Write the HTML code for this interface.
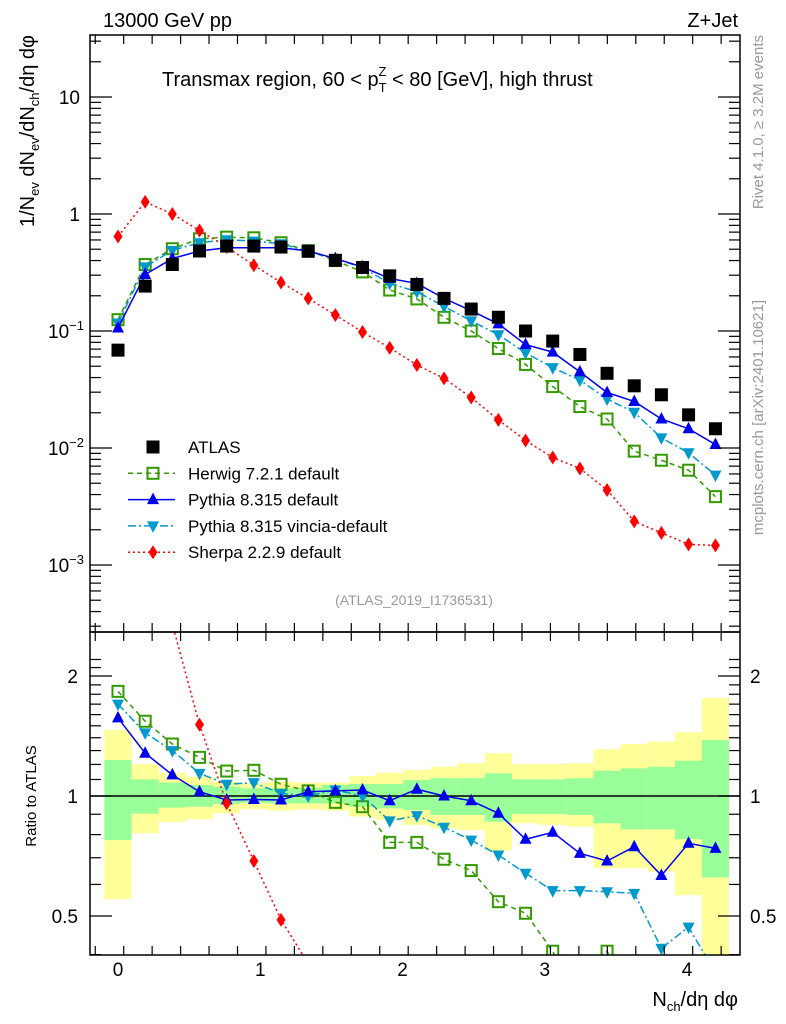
<!DOCTYPE html>
<html><head><meta charset="utf-8"><style>
html,body{margin:0;padding:0;background:#fff;}
svg{display:block;font-family:"Liberation Sans",Arial,sans-serif;}
</style></head><body>
<svg id="chart" width="786" height="1024" viewBox="0 0 786 1024" xmlns="http://www.w3.org/2000/svg">
<rect x="0" y="0" width="786" height="1024" fill="#fff"/>
<g id="bands"></g><g id="series"></g><g id="axes"></g><g id="labels"></g>
</svg>
<script>
const xs = [0,0.191,0.382,0.573,0.764,0.955,1.146,1.337,1.528,1.719,1.91,2.101,2.292,2.483,2.674,2.865,3.056,3.247,3.438,3.629,3.82,4.011,4.2];
const atlas = [0.0686,0.242,0.37,0.483,0.532,0.532,0.522,0.48,0.402,0.349,0.296,0.25,0.19,0.154,0.131,0.1,0.082,0.063,0.0435,0.034,0.0285,0.0192,0.0146];
const herwig = [0.125,0.37,0.505,0.614,0.634,0.626,0.568,0.486,0.4,0.32,0.224,0.188,0.131,0.1,0.0708,0.0518,0.0335,0.0226,0.0177,0.0094,0.00786,0.00646,0.00384];
const pythia = [0.106,0.304,0.416,0.483,0.515,0.515,0.515,0.483,0.416,0.353,0.281,0.255,0.19,0.149,0.115,0.0766,0.066,0.0447,0.0298,0.025,0.0177,0.0146,0.0107];
const vincia = [0.117,0.353,0.489,0.568,0.602,0.587,0.557,0.48,0.416,0.347,0.255,0.217,0.162,0.122,0.093,0.065,0.0486,0.038,0.0262,0.0202,0.0122,0.0091,0.00587];
const sherpa = [0.642,1.27,1.0,0.722,0.522,0.365,0.26,0.19,0.137,0.098,0.0718,0.0512,0.0394,0.027,0.0174,0.0116,0.0083,0.00668,0.00438,0.00236,0.00188,0.0015,0.00147];
const ratioHerwig = [1.83,1.54,1.35,1.25,1.155,1.16,1.07,1.03,0.964,0.94,0.765,0.765,0.694,0.65,0.543,0.508,0.408,0.3,0.408,0.3,0.3,0.3,0.3];
const ratioPythia = [1.57,1.28,1.13,1.025,0.977,0.98,0.977,1.025,1.03,1.035,0.973,1.04,1.0,0.973,0.905,0.779,0.811,0.718,0.687,0.746,0.632,0.761,0.739];
const ratioVincia = [1.70,1.44,1.30,1.14,1.07,1.08,1.015,1.0,1.035,1.0,0.866,0.893,0.835,0.775,0.711,0.64,0.579,0.579,0.575,0.57,0.415,0.469,0.36];
const ratioSherpa = [9.3,5.2,2.7,1.51,0.959,0.687,0.489,0.38,null,null,null,null,null,null,null,null,null,null,null,null,null,null,null];
const bandYellowUp = [1.464,1.203,1.144,1.118,1.086,1.076,1.086,1.08,1.08,1.122,1.144,1.162,1.184,1.208,1.28,1.203,1.203,1.208,1.31,1.35,1.369,1.445,1.762];
const bandYellowDn = [0.551,0.806,0.861,0.874,0.905,0.926,0.919,0.926,0.919,0.888,0.871,0.846,0.83,0.822,0.729,0.854,0.846,0.838,0.659,0.659,0.646,0.564,0.4];
const bandGreenUp = [1.231,1.101,1.08,1.066,1.055,1.045,1.045,1.049,1.066,1.072,1.072,1.097,1.108,1.108,1.14,1.101,1.101,1.108,1.157,1.173,1.184,1.226,1.382];
const bandGreenDn = [0.775,0.903,0.935,0.94,0.955,0.962,0.958,0.958,0.958,0.94,0.931,0.922,0.896,0.896,0.862,0.901,0.901,0.896,0.854,0.825,0.825,0.779,0.625];
const xTicks = ["0","1","2","3","4"];
const mainYTicks = [10,1,0.1,0.01,0.001];
const ratioTicks = ["0.5","1","2"];

const NS="http://www.w3.org/2000/svg";
const L=90,R=740,MT=35,MB=632,RT=632,RB=955;
const X0=118,XU=142.25;
function sx(v){return X0+v*XU;}
function syMain(v){return 214-117*Math.log10(v);}
function syRatio(r){return 796-120*Math.log2(r);}
function mk(tag,attrs,parent){const e=document.createElementNS(NS,tag);for(const k in attrs)e.setAttribute(k,attrs[k]);parent.appendChild(e);return e;}
const svg=document.getElementById('chart');
const gB=document.getElementById('bands'),gS=document.getElementById('series'),gA=document.getElementById('axes'),gL=document.getElementById('labels');

const defs=mk('defs',{},svg);
const c1=mk('clipPath',{id:'cm'},defs);mk('rect',{x:L,y:MT,width:R-L,height:MB-MT},c1);
const c2=mk('clipPath',{id:'cr'},defs);mk('rect',{x:L,y:RT,width:R-L,height:RB-RT},c2);

const half=0.0955;
for(let i=0;i<xs.length;i++){
  const x1=sx(xs[i]-half),x2=sx(xs[i]+half);
  let r=mk('rect',{x:x1,y:syRatio(bandYellowUp[i]),width:x2-x1,height:syRatio(bandYellowDn[i])-syRatio(bandYellowUp[i]),fill:'#ffff99','clip-path':'url(#cr)'},gB);
  
  
  let g=mk('rect',{x:x1,y:syRatio(bandGreenUp[i]),width:x2-x1,height:syRatio(bandGreenDn[i])-syRatio(bandGreenUp[i]),fill:'#99ff99','clip-path':'url(#cr)'},gB);
  
  
}
mk('line',{x1:L,x2:R,y1:796,y2:796,stroke:'#000','stroke-width':1.5},gB);

function marker(type,color,x,y,parent){
  if(type==='square') return mk('rect',{x:x-6.5,y:y-6.5,width:13,height:13,fill:'#000'},parent);
  if(type==='open') return mk('rect',{x:x-5.5,y:y-5.5,width:11,height:11,fill:'none',stroke:color,'stroke-width':2},parent);
  if(type==='up') return mk('polygon',{points:`${x},${y-7} ${x-6},${y+4.5} ${x+6},${y+4.5}`,fill:color},parent);
  if(type==='down') return mk('polygon',{points:`${x},${y+7} ${x-6},${y-4.5} ${x+6},${y-4.5}`,fill:color},parent);
  if(type==='diamond') return mk('polygon',{points:`${x},${y-7} ${x-4.5},${y} ${x},${y+7} ${x+4.5},${y}`,fill:color},parent);
}
const series=[
 {name:'herwig',vals:herwig,rat:ratioHerwig,color:'#339900',dash:'5,4',type:'open'},
 {name:'vincia',vals:vincia,rat:ratioVincia,color:'#0099cc',dash:'8,3,2,3',type:'down'},
 {name:'pythia',vals:pythia,rat:ratioPythia,color:'#0000ee',dash:'',type:'up'},
 {name:'sherpa',vals:sherpa,rat:ratioSherpa,color:'#ff0000',dash:'2,3',type:'diamond'}
];
series.forEach(s=>{
  [['main',s.vals,syMain,'url(#cm)'],['ratio',s.rat,syRatio,'url(#cr)']].forEach(([panel,arr,fy,clip])=>{
    const g=mk('g',{'clip-path':clip},gS);
    
    
    let pts=[];
    arr.forEach((v,i)=>{if(v!=null)pts.push(sx(xs[i])+','+fy(v));});
    const pl=mk('polyline',{points:pts.join(' '),fill:'none',stroke:s.color,'stroke-width':1.5},g);
    if(s.dash)pl.setAttribute('stroke-dasharray',s.dash);
    arr.forEach((v,i)=>{if(v!=null){const m=marker(s.type,s.color,sx(xs[i]),fy(v),g);
      
      }});
  });
});
atlas.forEach((v,i)=>{const m=marker('square','#000',sx(xs[i]),syMain(v),gS);
  
  });

[[MT,MB],[RT,RB]].forEach(([t,b])=>mk('rect',{x:L,y:t,width:R-L,height:b-t,fill:'none',stroke:'#000','stroke-width':1.5},gA));
for(let k=-0.8;k<=21.5;k++){
  const v=k*0.2; const x=sx(v); if(x<L||x>R)continue;
  const maj=Math.abs(v-Math.round(v))<1e-6; const len=maj?18:9;
  [[MT,1],[MB,-1],[RT,1],[RB,-1]].forEach(([y,d])=>mk('line',{x1:x,x2:x,y1:y,y2:y+d*len,stroke:'#000','stroke-width':1.2},gA));
}
for(let e=-4;e<=1;e++){for(let m=1;m<=9;m++){const v=m*Math.pow(10,e);const y=syMain(v);if(y<MT||y>MB)continue;
  const len=m===1?22:11;
  mk('line',{x1:L,x2:L+len,y1:y,y2:y,stroke:'#000','stroke-width':1.2},gA);
  mk('line',{x1:R,x2:R-len,y1:y,y2:y,stroke:'#000','stroke-width':1.2},gA);}}
for(let v=0.4;v<=2.3;v+=0.1){const y=syRatio(v);if(y<RT||y>RB)continue;
  const maj=[0.5,1,2].some(t=>Math.abs(t-v)<1e-6);const len=maj?22:11;
  mk('line',{x1:L,x2:L+len,y1:y,y2:y,stroke:'#000','stroke-width':1.2},gA);
  mk('line',{x1:R,x2:R-len,y1:y,y2:y,stroke:'#000','stroke-width':1.2},gA);}

function txt(s,attrs,name){const t=mk('text',attrs,gL);t.innerHTML=s;return t;}
xTicks.forEach(t=>txt(t,{x:sx(+t),y:976,'font-size':19,'text-anchor':'middle'},'x-tick-label'));
mainYTicks.forEach(v=>{const y=syMain(v)+7;
  if(v>=1)txt(String(v),{x:80,y:y,'font-size':19,'text-anchor':'end'},'y-tick-label');
  else txt('10<tspan dy="-8" font-size="13">−'+(-Math.round(Math.log10(v)))+'</tspan>',{x:84,y:y,'font-size':19,'text-anchor':'end'},'y-tick-label');});
ratioTicks.forEach(t=>{const y=syRatio(+t)+7;
  txt(t,{x:78,y:y,'font-size':19,'text-anchor':'end'},'ratio-tick-label-left');
  txt(t,{x:750,y:y,'font-size':19},'ratio-tick-label-right');});

txt('13000 GeV pp',{x:103,y:27,'font-size':20},'energy-label');
txt('Z+Jet',{x:738,y:27,'font-size':20,'text-anchor':'end'},'process-label');
txt('Transmax region, 60 &lt; p<tspan dy="6" font-size="13">T</tspan><tspan dy="-16" dx="-8" font-size="13">Z</tspan><tspan dy="10"> &lt; 80 [GeV], high thrust</tspan>',{x:162,y:86,'font-size':20},'plot-title');
txt('(ATLAS_2019_I1736531)',{x:414,y:605,'font-size':14,fill:'#999','text-anchor':'middle'},'analysis-id');
txt('1/N<tspan dy="5" font-size="13">ev</tspan><tspan dy="-5"> dN</tspan><tspan dy="5" font-size="13">ev</tspan><tspan dy="-5">/dN</tspan><tspan dy="5" font-size="13">ch</tspan><tspan dy="-5">/dη dφ</tspan>',{x:0,y:0,'font-size':20,'text-anchor':'end',transform:'translate(34,35) rotate(-90)'},'y-axis-title');
txt('Ratio to ATLAS',{x:0,y:0,'font-size':15,'text-anchor':'middle',transform:'translate(36,796) rotate(-90)'},'ratio-axis-title');
txt('N<tspan dy="5" font-size="13">ch</tspan><tspan dy="-5">/dη dφ</tspan>',{x:738,y:1006,'font-size':20,'text-anchor':'end'},'x-axis-title');
txt('Rivet 4.1.0, ≥ 3.2M events',{x:0,y:0,'font-size':15,fill:'#999','text-anchor':'end',transform:'translate(763,35) rotate(-90)'},'rivet-label');
txt('mcplots.cern.ch [arXiv:2401.10621]',{x:0,y:0,'font-size':15,fill:'#999','text-anchor':'end',transform:'translate(763,300) rotate(-90)'},'mcplots-label');

const leg=[['ATLAS','square','#000',''],['Herwig 7.2.1 default','open','#339900','5,4'],['Pythia 8.315 default','up','#0000ee',''],['Pythia 8.315 vincia-default','down','#0099cc','8,3,2,3'],['Sherpa 2.2.9 default','diamond','#ff0000','2,3']];
leg.forEach((l,i)=>{const y=447+i*26.3;
  const g=mk('g',{},gL);
  
  
  if(i>0){const ln=mk('line',{x1:128,x2:175,y1:y,y2:y,stroke:l[2],'stroke-width':1.5},g);if(l[3])ln.setAttribute('stroke-dasharray',l[3]);}
  marker(l[1],l[2],153,y,g);
  const t=mk('text',{x:188,y:y+6,'font-size':17},g);t.textContent=l[0];});
</script>
</body></html>
